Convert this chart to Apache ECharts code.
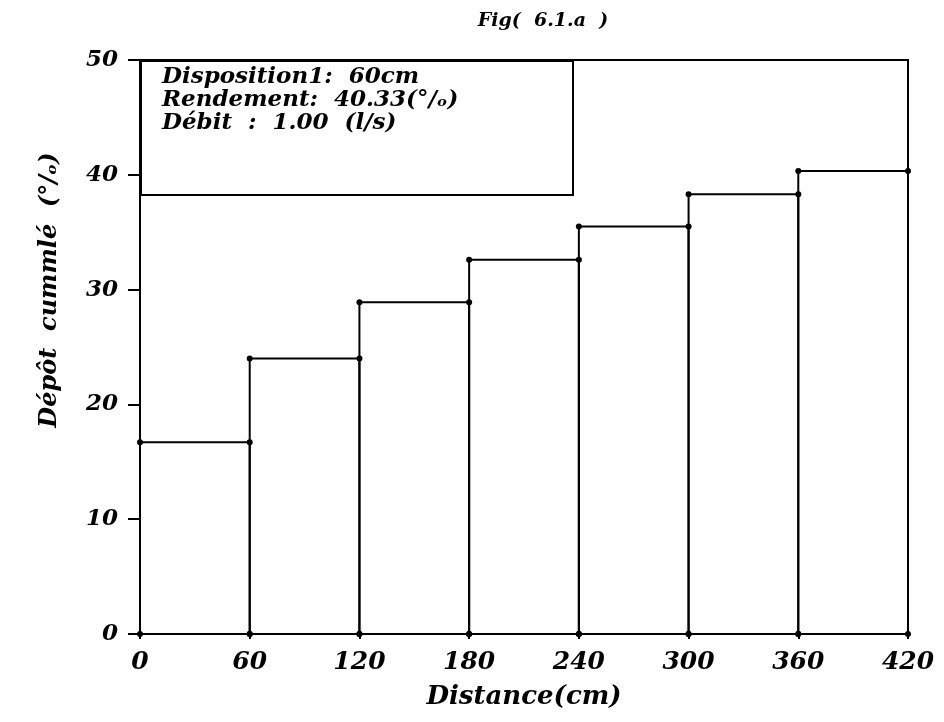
<!DOCTYPE html>
<html>
<head>
<meta charset="utf-8">
<script src="https://cdn.jsdelivr.net/npm/echarts@6/dist/echarts.min.js"></script>
<style>html,body{margin:0;padding:0;background:#fff;}#c{width:944px;height:722px;}</style>
</head>
<body>
<div id="c"></div>
<script>
// Data
const binEdges = [0, 60, 120, 180, 240, 300, 360, 420];
const depotValues = [16.7, 24.0, 28.9, 32.6, 35.5, 38.3, 40.33];
const xTicks = [0, 60, 120, 180, 240, 300, 360, 420];
const yTicks = [0, 10, 20, 30, 40, 50];
const titleText = 'Fig(  6.1.a  )';
const infoLines = ['Disposition1:  60cm', 'Rendement:  40.33(°/ₒ)', 'Débit  :  1.00  (l/s)'];

const FONT = 'DejaVu Serif';
const chart = echarts.init(document.getElementById('c'), null, {renderer: 'canvas'});
const data = depotValues.map((v, i) => [binEdges[i], binEdges[i + 1], v]);

const option = {
  backgroundColor: '#fff',
  animation: false,
  grid: {left: 140, right: 36, top: 60, bottom: 88, show: true, borderColor: '#000', borderWidth: 2, backgroundColor: 'transparent'},
  title: {
    text: titleText, left: 538, top: 7, textAlign: 'center',
    textStyle: {fontFamily: FONT, fontStyle: 'italic', fontWeight: 'bold', fontSize: 19, color: '#000'}
  },
  xAxis: {
    type: 'value', min: xTicks[0], max: xTicks[xTicks.length - 1], interval: 60,
    axisLine: {show: true, lineStyle: {color: '#000', width: 2}},
    axisTick: {show: true, length: 5, lineStyle: {color: '#000', width: 2}},
    axisLabel: {fontFamily: FONT, fontStyle: 'italic', fontWeight: 'bold', fontSize: 25, color: '#000', margin: 16},
    splitLine: {show: false},
    name: 'Distance(cm)', nameLocation: 'middle', nameGap: 50,
    nameTextStyle: {fontFamily: FONT, fontStyle: 'italic', fontWeight: 'bold', fontSize: 26, color: '#000'}
  },
  yAxis: {
    type: 'value', min: yTicks[0], max: yTicks[yTicks.length - 1], interval: 10,
    axisLine: {show: true, lineStyle: {color: '#000', width: 2}},
    axisTick: {show: true, length: 12, lineStyle: {color: '#000', width: 2}},
    axisLabel: {fontFamily: FONT, fontStyle: 'italic', fontWeight: 'bold', fontSize: 23, color: '#000', margin: 22},
    splitLine: {show: false}
  },
  graphic: [
    {type: 'rect', left: 140, top: 60, z: 10,
      shape: {width: 432, height: 134}, style: {fill: '#fff', stroke: '#000', lineWidth: 2}},
    {type: 'text', left: 162, top: 66, z: 11,
      style: {text: infoLines.join('\n'), fontFamily: FONT, fontStyle: 'italic', fontWeight: 'bold', fontSize: 23, lineHeight: 23, fill: '#000'}},
    {type: 'text', x: 50, y: 290, rotation: Math.PI / 2, z: 11,
      style: {text: 'Dépôt  cummlé  (°/ₒ)', fontFamily: FONT, fontStyle: 'italic', fontWeight: 'bold', fontSize: 24, fill: '#000', align: 'center', verticalAlign: 'middle'}}
  ],
  series: [{
    type: 'custom',
    data: data,
    renderItem: function (params, api) {
      const x0 = api.value(0), x1 = api.value(1), y = api.value(2);
      const p0 = api.coord([x0, 0]), p1 = api.coord([x0, y]), p2 = api.coord([x1, y]), p3 = api.coord([x1, 0]);
      const dots = [p0, p1, p2, p3].map(p => ({type: 'circle', shape: {cx: p[0], cy: p[1], r: 3}, style: {fill: '#000'}}));
      return {type: 'group', children: [
        {type: 'polyline', shape: {points: [p0, p1, p2, p3]}, style: {stroke: '#000', lineWidth: 2, fill: null}}
      ].concat(dots)};
    }
  }]
};
chart.setOption(option);
</script>
</body>
</html>
